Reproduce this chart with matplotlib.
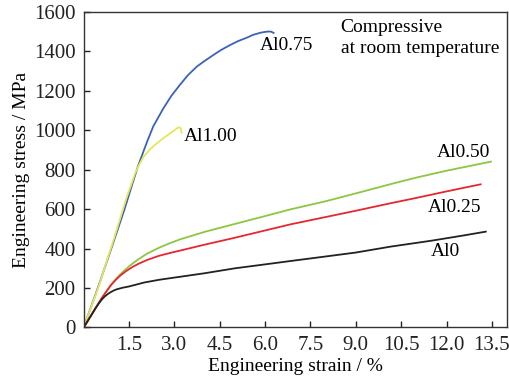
import matplotlib.pyplot as plt

plt.rcParams['font.family'] = ['Liberation Serif', 'DejaVu Serif']
plt.rcParams['font.size'] = 14

# Al0.75 (blue)
al075_x = [0, 0.5, 1.0, 1.35, 1.65, 1.8, 2.09, 2.3, 2.63, 2.9, 3.19, 3.45, 3.74, 4.0, 4.29, 4.55, 4.85, 5.1, 5.4, 5.6, 5.85, 6.0, 6.12, 6.2, 6.28]
al075_y = [0, 215, 440, 600, 748, 820, 940, 1020, 1110, 1175, 1232, 1280, 1323, 1352, 1382, 1408, 1433, 1452, 1470, 1484, 1495, 1499, 1501, 1500, 1494]
# Al1.00 (yellow)
al100_x = [0, 0.5, 1.0, 1.4, 1.55, 1.7, 1.85, 1.98, 2.2, 2.42, 2.65, 2.86, 3.0, 3.08, 3.15, 3.2, 3.24]
al100_y = [0, 210, 450, 650, 715, 782, 830, 866, 905, 934, 962, 985, 1000, 1010, 1015, 1012, 988]
# Al0.50 (green)
al050_x = [0, 0.3, 0.6, 0.9, 1.05, 1.2, 1.35, 1.5, 1.65, 1.8, 2.09, 2.5, 2.86, 3.19, 4.0, 5.0, 6.0, 6.84, 8.0, 9.0, 10.3, 11.0, 12.0, 13.47]
al050_y = [0, 75, 150, 215, 243, 268, 290, 310, 328, 345, 374, 405, 428, 447, 485, 525, 565, 599, 640, 680, 733, 760, 795, 841]
# Al0.25 (red)
al025_x = [0, 0.3, 0.6, 0.9, 1.05, 1.2, 1.35, 1.5, 1.65, 1.8, 2.09, 2.5, 2.86, 3.19, 4.0, 5.0, 6.0, 6.84, 8.0, 9.0, 10.15, 11.0, 12.0, 13.13]
al025_y = [0, 75, 150, 215, 240, 262, 280, 296, 310, 322, 342, 364, 378, 390, 420, 455, 492, 523, 560, 592, 630, 657, 690, 726]
# Al0 (black)
al0_x = [0, 0.3, 0.4, 0.5, 0.6, 0.7, 0.8, 0.9, 1.0, 1.1, 1.2, 1.3, 1.4, 1.5, 1.7, 2.0, 2.5, 3.0, 4.0, 5.0, 6.0, 6.84, 8.0, 9.0, 10.15, 11.5, 12.5, 13.3]
al0_y = [0, 75, 100, 122, 142, 158, 170, 180, 188, 194, 198, 202, 205, 208, 216, 228, 242, 253, 275, 300, 320, 337, 360, 380, 410, 440, 465, 486]

xticks = [1.5, 3.0, 4.5, 6.0, 7.5, 9.0, 10.5, 12.0, 13.5]
yticks = [0, 200, 400, 600, 800, 1000, 1200, 1400, 1600]

fig = plt.figure(figsize=(5.09, 3.83), dpi=100)
ax = fig.add_axes([0.1645, 0.145, 0.8315, 0.8237])

ax.plot(al075_x, al075_y, color='#3b62b8', lw=1.3)
ax.plot(al100_x, al100_y, color='#e6e65a', lw=1.3)
ax.plot(al050_x, al050_y, color='#8dc63f', lw=1.3)
ax.plot(al025_x, al025_y, color='#e8262d', lw=1.3)
ax.plot(al0_x, al0_y, color='#222222', lw=1.3)

ax.text(5.84, 1432, 'Al0.75', va='center', ha='left')
ax.text(3.3, 971, 'Al1.00', va='center', ha='left')
ax.text(13.45, 885, 'Al0.50', va='center', ha='right')
ax.text(11.38, 606, 'Al0.25', va='center', ha='left')
ax.text(11.48, 383, 'Al0', va='center', ha='left')
ax.text(8.5, 1520, 'Compressive', va='center', ha='left')
ax.text(8.5, 1413, 'at room temperature', va='center', ha='left')

ax.set_xlim(0, 14)
ax.set_ylim(0, 1600)
ax.set_xticks(xticks)
ax.set_xticklabels(['%.1f' % t for t in xticks])
ax.set_yticks(yticks)
ax.tick_params(direction='in', length=4, width=1, colors='#222222', pad=6, labelsize=15)
for s in ax.spines.values():
    s.set_color('#333333')
    s.set_linewidth(1)
ax.set_xlabel('Engineering strain / %', labelpad=2)
ax.set_ylabel('Engineering stress / MPa', labelpad=3)

fig.savefig('out.png', dpi=100)
